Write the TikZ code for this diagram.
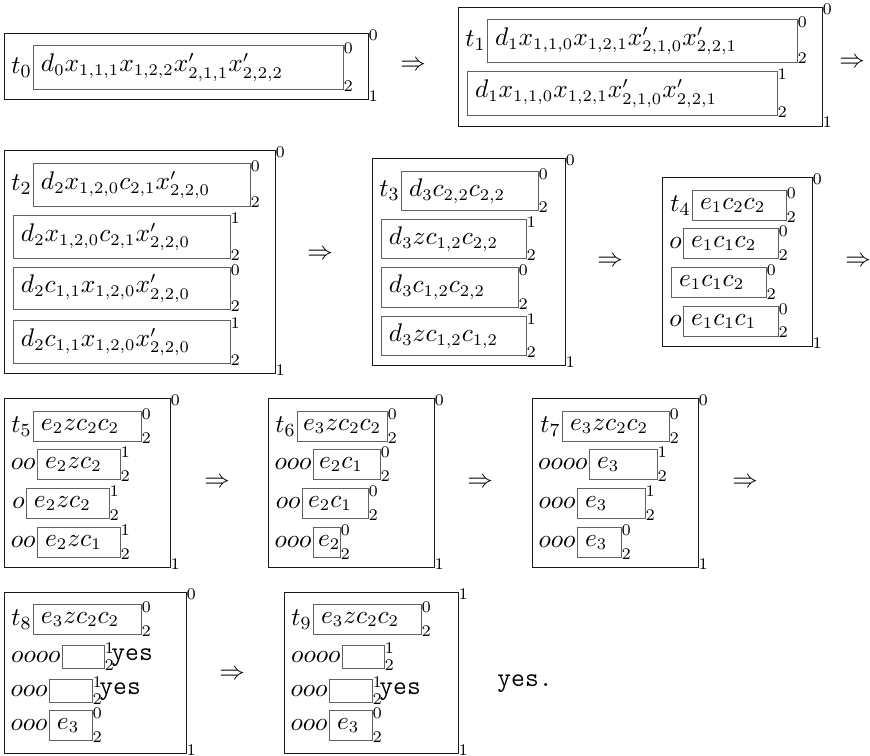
\documentclass[tikz,border=0pt]{standalone}
\usetikzlibrary{calc,fit}

\tikzset{
  ibox/.style={draw=black!62, line width=0.42pt, inner sep=0pt, outer sep=0pt},
  obox/.style={draw=black!90, line width=0.42pt, inner sep=0pt, outer sep=0pt},
  ctext/.style={font=\fontsize{10.7}{12}\selectfont, inner sep=0pt, outer sep=0pt},
  ptext/.style={font=\fontsize{11}{13}\selectfont, inner sep=0.6pt, outer sep=0pt},
  lab/.style={font=\fontsize{7}{8}\selectfont, inner sep=0pt, outer sep=0pt},
  arr/.style={font=\fontsize{10.8}{12}\selectfont, inner sep=0pt},
  ttyes/.style={font=\fontsize{11.5}{13}\selectfont\ttfamily, inner sep=0pt},
}

% left indent of the content inside an inner box
\def\cofs{8}

% inner box: name, x1, y1, x2, y2, prefix, content, upper mark, lower mark
\newcommand\inbox[9]{%
  \node[ibox, fit={(#2,#3) (#4,#5)}] (#1) {};
  \node[ctext, anchor=west] (#1-c) at ($(#1.west)+(\cofs,0.5)$) {$#7$};
  \node[ptext, anchor=east] (#1-p) at ($(#1.west)+(0,0.5)$) {$#6$};
  \node[lab, anchor=north west] (#1-u) at ($(#1.north east)+(0.6,-2)$) {#8};
  \node[lab, anchor=south west] (#1-d) at ($(#1.south east)+(0.6,2)$) {#9};
}
% outer box: name, x1, y1, x2, y2, upper mark, lower mark
\newcommand\outbox[7]{%
  \node[obox, fit={(#2,#3) (#4,#5)}] (#1) {};
  \node[lab, anchor=north west] (#1-u) at ($(#1.north east)+(0.6,-3)$) {#6};
  \node[lab, anchor=south west] (#1-d) at ($(#1.south east)+(0.6,2)$) {#7};
}

\begin{document}
\begin{tikzpicture}[x=0.43pt, y=-0.43pt]
\useasboundingbox (0,0) rectangle (870,756);

% ---- row 1 ----
\outbox{T0}{4}{33}{368}{99}{0}{1}
\inbox{T0a}{33}{45}{343}{89}{t_0}{d_0x_{1,1,1}x_{1,2,2}x'_{2,1,1}x'_{2,2,2}}{0}{2}
\node[arr] (A1) at (413,66) {$\Rightarrow$};

\outbox{T1}{458}{7}{822}{126}{0}{1}
\inbox{T1a}{487}{19}{797}{62}{t_1}{d_1x_{1,1,0}x_{1,2,1}x'_{2,1,0}x'_{2,2,1}}{0}{2}
\inbox{T1b}{467}{71}{777}{115}{}{d_1x_{1,1,0}x_{1,2,1}x'_{2,1,0}x'_{2,2,1}}{1}{2}
\node[arr] (A2) at (852,63) {$\Rightarrow$};

% ---- row 2 ----
\outbox{T2}{4}{150}{275}{373}{0}{1}
\inbox{T2a}{33}{163}{250}{206}{t_2}{d_2x_{1,2,0}c_{2,1}x'_{2,2,0}}{0}{2}
\inbox{T2b}{13}{215}{230}{258}{}{d_2x_{1,2,0}c_{2,1}x'_{2,2,0}}{1}{2}
\inbox{T2c}{13}{267}{230}{309}{}{d_2c_{1,1}x_{1,2,0}x'_{2,2,0}}{0}{2}
\inbox{T2d}{13}{320}{230}{363}{}{d_2c_{1,1}x_{1,2,0}x'_{2,2,0}}{1}{2}
\node[arr] (A3) at (320,255) {$\Rightarrow$};

\outbox{T3}{372}{158}{565}{365}{0}{1}
\inbox{T3a}{401}{171}{538}{210}{t_3}{d_3c_{2,2}c_{2,2}}{0}{2}
\inbox{T3b}{381}{219}{526}{258}{}{d_3zc_{1,2}c_{2,2}}{1}{2}
\inbox{T3c}{381}{267}{518}{307}{}{d_3c_{1,2}c_{2,2}}{0}{2}
\inbox{T3d}{381}{316}{526}{355}{}{d_3zc_{1,2}c_{1,2}}{1}{2}
\node[arr] (A4) at (610,262) {$\Rightarrow$};

\outbox{T4}{662}{177}{812}{346}{0}{1}
\inbox{T4a}{692}{190}{786}{220}{t_4}{e_1c_2c_2}{0}{2}
\inbox{T4b}{683}{228}{778}{258}{o}{e_1c_1c_2}{0}{2}
\inbox{T4c}{671}{267}{766}{297}{}{e_1c_1c_2}{0}{2}
\inbox{T4d}{683}{306}{778}{336}{o}{e_1c_1c_1}{0}{2}
\node[arr] (A5) at (858,262) {$\Rightarrow$};

% ---- row 3 ----
\outbox{T5}{4}{398}{170}{567}{0}{1}
\inbox{T5a}{33}{411}{141}{441}{t_5}{e_2zc_2c_2}{0}{2}
\inbox{T5b}{37}{449}{120}{479}{oo}{e_2zc_2}{1}{2}
\inbox{T5c}{26}{488}{109}{518}{o}{e_2zc_2}{1}{2}
\inbox{T5d}{37}{527}{120}{557}{oo}{e_2zc_1}{1}{2}
\node[arr] (A6) at (217,483) {$\Rightarrow$};

\outbox{T6}{268}{398}{434}{567}{0}{1}
\def\cofs{6}
\inbox{T6a}{297}{411}{387}{441}{t_6}{e_3zc_2c_2}{0}{2}
\inbox{T6b}{313}{449}{380}{479}{ooo}{e_2c_1}{0}{2}
\inbox{T6c}{302}{488}{368}{518}{oo}{e_2c_1}{0}{2}
\def\cofs{5}
\inbox{T6d}{313}{527}{340}{557}{ooo}{e_2}{0}{2}
\def\cofs{8}
\node[arr] (A7) at (480,483) {$\Rightarrow$};

\outbox{T7}{532}{398}{698}{567}{0}{1}
\inbox{T7a}{562}{411}{669}{441}{t_7}{e_3zc_2c_2}{0}{2}
\inbox{T7b}{589}{449}{657}{479}{oooo}{e_3}{1}{2}
\inbox{T7c}{577}{488}{645}{518}{ooo}{e_3}{1}{2}
\inbox{T7d}{577}{527}{621}{557}{ooo}{e_3}{0}{2}
\node[arr] (A8) at (745,483) {$\Rightarrow$};

% ---- row 4 ----
\outbox{T8}{4}{592}{186}{753}{0}{1}
\inbox{T8a}{33}{604}{141}{634}{t_8}{e_3zc_2c_2}{0}{2}
\inbox{T8b}{62}{645}{104}{668}{oooo}{}{1}{2}
\inbox{T8c}{49}{679}{92}{702}{ooo}{}{1}{2}
\inbox{T8d}{49}{710}{92}{740}{ooo}{e_3}{0}{2}
\node[ttyes, anchor=base west] (Y1) at ($(T8b.east)+(7,3.5)$) {yes};
\node[ttyes, anchor=base west] (Y2) at ($(T8c.east)+(7,3.5)$) {yes};
\node[arr] (A9) at (232,675) {$\Rightarrow$};

\outbox{T9}{284}{592}{458}{753}{1}{1}
\inbox{T9a}{313}{604}{421}{634}{t_9}{e_3zc_2c_2}{0}{2}
\inbox{T9b}{342}{645}{384}{668}{oooo}{}{1}{2}
\inbox{T9c}{329}{679}{372}{702}{ooo}{}{1}{2}
\inbox{T9d}{329}{710}{372}{740}{ooo}{e_3}{0}{2}
\node[ttyes, anchor=base west] (Y3) at ($(T9c.east)+(7,3.5)$) {yes};
\node[ttyes, anchor=base west] (Y4) at ($(T9.east)+(39,13.5)$) {yes.};
\end{tikzpicture}
\end{document}
